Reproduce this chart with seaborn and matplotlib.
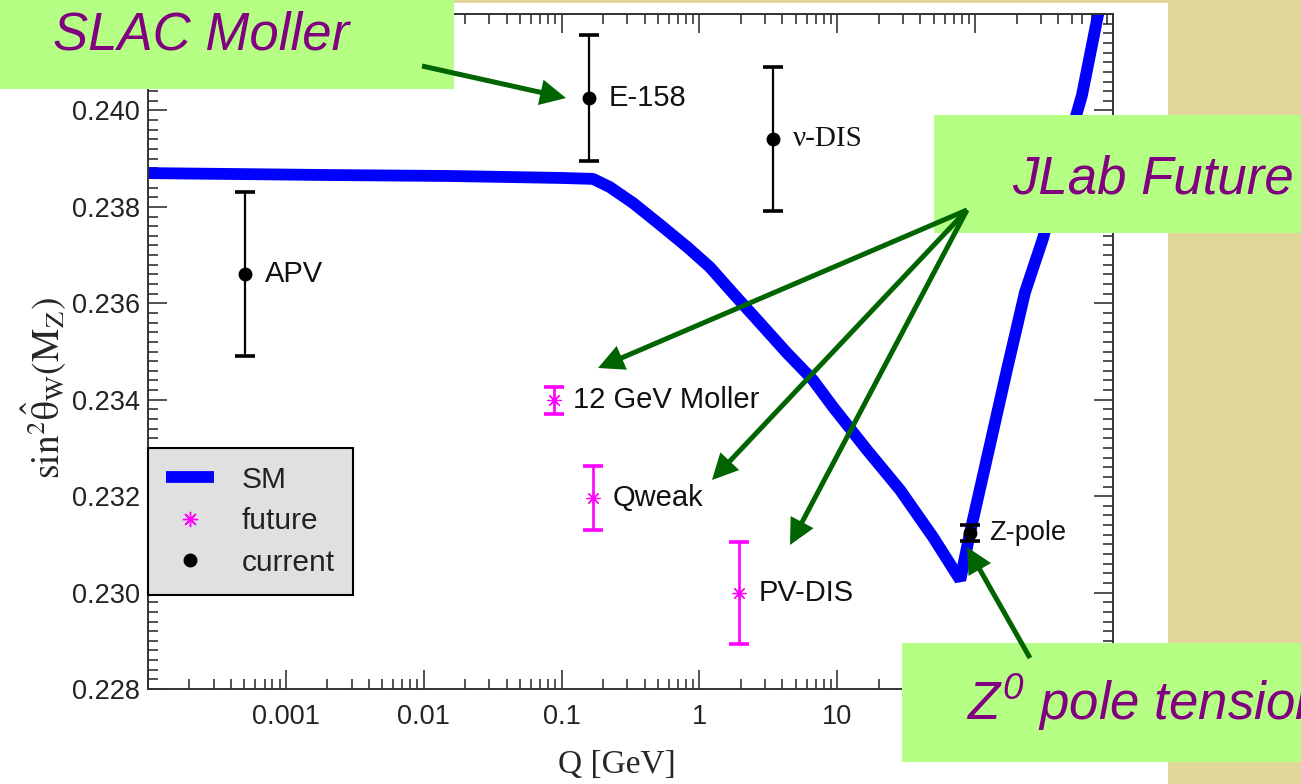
import matplotlib
matplotlib.use("Agg")
import matplotlib.pyplot as plt
from matplotlib.patches import Rectangle, FancyArrowPatch
from matplotlib.lines import Line2D
from matplotlib.ticker import MultipleLocator, LogLocator, NullFormatter, FixedLocator, FixedFormatter
import seaborn as sns

# Standard Model running of sin^2(theta_W) in the MS-bar scheme
sm_q = [1e-4, 2.09e-3, 0.0155, 0.0975, 0.169, 0.224, 0.330, 0.518, 0.813, 1.19,
        1.75, 2.75, 4.31, 6.66, 9.31, 16.4, 28.5, 49.5, 78.0, 91.8,
        128, 170, 230, 311, 427, 596, 805]
sm_s2w = [0.23870, 0.23866, 0.23864, 0.23860, 0.23858, 0.23841, 0.23808, 0.23763, 0.23717, 0.23675,
          0.23621, 0.23559, 0.23497, 0.23441, 0.23385, 0.23296, 0.23213, 0.23115, 0.23026, 0.23124,
          0.23306, 0.23462, 0.23623, 0.23735, 0.23887, 0.24032, 0.24219]

# Existing measurements
cur_names = ["APV", "E-158", "\u03bd-DIS", "Z-pole"]
cur_q = [5.06e-4, 0.158, 3.42, 91.19]
cur_s2w = [0.23661, 0.24026, 0.23941, 0.23124]
cur_err = [0.0017, 0.0013, 0.0015, 0.00017]

# Projected measurements
fut_names = ["12 GeV Moller", "Qweak", "PV-DIS"]
fut_q = [0.088, 0.169, 1.94]
fut_s2w = [0.23399, 0.23196, 0.22999]
fut_err = [0.00028, 0.00066, 0.00105]

x_ticks = [1e-4, 1e-3, 1e-2, 1e-1, 1, 10, 100, 1000]
x_tick_labels = ["", "0.001", "0.01", "0.1", "1", "10", "", ""]
y_ticks = [0.228, 0.230, 0.232, 0.234, 0.236, 0.238, 0.240]
y_tick_labels = ["0.228", "0.230", "0.232", "0.234", "0.236", "0.238", "0.240"]

legend_labels = ["SM", "future", "current"]

callouts = ["SLAC Moller", "JLab Future", r"$Z^{0}$ pole tension"]

sns.set_theme(style="ticks")
plt.rcParams["font.family"] = ["Liberation Sans", "DejaVu Sans"]
plt.rcParams["mathtext.fontset"] = "stix"
# italic sans used by the call-out text that carries a superscript
plt.rcParams["mathtext.it"] = "Liberation Sans:italic"
plt.rcParams["mathtext.rm"] = "Liberation Sans:italic"

W, H = 1301, 784
fig = plt.figure(figsize=(W / 100, H / 100), dpi=100)
fig.patch.set_facecolor("white")


def fx(px):
    return px / W


def fy(py):
    return 1 - py / H


BEIGE = "#E1D79B"
BOX = "#B4FF84"
PURPLE = "#800080"
ARROW = "#006400"

# slide background
fig.add_artist(Rectangle((fx(1168), 0), 1 - fx(1168), 1, transform=fig.transFigure,
                         facecolor=BEIGE, edgecolor="none", zorder=-5))
fig.add_artist(Rectangle((0, fy(3)), fx(1168), 3 / H, transform=fig.transFigure,
                         facecolor=BEIGE, edgecolor="none", zorder=-5))

ax = fig.add_axes([fx(148), fy(689), fx(1113) - fx(148), fy(14) - fy(689)])
ax.set_facecolor("white")
ax.set_xscale("log")

sns.lineplot(x=sm_q, y=sm_s2w, ax=ax, color="#0000FF", lw=8.5, estimator=None,
             sort=False, zorder=2, solid_joinstyle="bevel", solid_capstyle="butt")

ax.errorbar(cur_q, cur_s2w, yerr=cur_err, fmt="o", color="black", ms=9, elinewidth=1.6,
            capsize=7.5, capthick=2.6, zorder=3)
ax.errorbar(fut_q, fut_s2w, yerr=fut_err, fmt="none", ecolor="#FF00FF", elinewidth=1.9,
            capsize=7.5, capthick=2.6, zorder=3)
sns.scatterplot(x=fut_q, y=fut_s2w, ax=ax, marker=(8, 2, 0), color="#FF00FF", s=90,
                linewidth=0.9, edgecolor="#FF00FF", zorder=4)

for name, q, s in zip(cur_names, cur_q, cur_s2w):
    fam = ["Liberation Serif", "DejaVu Serif"] if name.startswith("\u03bd") else ["Liberation Sans", "DejaVu Sans"]
    ax.annotate(name, (q, s), xytext=(14, 0), textcoords="offset points", va="center",
                ha="left", fontsize=21 if name != "Z-pole" else 19.5, family=fam, color="#111111", zorder=5)
for name, q, s in zip(fut_names, fut_q, fut_s2w):
    ax.annotate(name, (q, s), xytext=(14, 0), textcoords="offset points", va="center",
                ha="left", fontsize=21, color="#111111", zorder=5)

ax.set_xlim(1e-4, 1e3)
ax.set_ylim(0.228, 0.242)
ax.xaxis.set_major_locator(FixedLocator(x_ticks))
ax.xaxis.set_major_formatter(FixedFormatter(x_tick_labels))
ax.xaxis.set_minor_locator(LogLocator(base=10, subs=range(2, 10), numticks=20))
ax.xaxis.set_minor_formatter(NullFormatter())
ax.yaxis.set_major_locator(FixedLocator(y_ticks))
ax.yaxis.set_major_formatter(FixedFormatter(y_tick_labels))
ax.yaxis.set_minor_locator(MultipleLocator(0.0002))

ax.tick_params(which="both", direction="in", top=True, right=True, color="#222222", width=1.1)
ax.tick_params(which="major", length=14)
ax.tick_params(which="minor", length=7)
ax.tick_params(axis="x", which="major", labelsize=19.5, pad=11, labelcolor="#222222")
ax.tick_params(axis="y", which="major", labelsize=19.5, pad=6, labelcolor="#222222")
for sp in ax.spines.values():
    sp.set_linewidth(1.4)
    sp.set_color("#333333")

ax.set_xlabel("Q [GeV]", fontsize=24, family=["Liberation Serif", "DejaVu Serif"], va="center")
ax.xaxis.set_label_coords((617 - 148) / 965, (689 - 765) / 675)
ax.set_ylabel(r"$\mathrm{sin}^2\hat{\mathrm{\theta}}_\mathrm{W}(\mathrm{M}_\mathrm{Z})$",
              fontsize=27, va="center")
ax.yaxis.set_label_coords((44 - 148) / 965, (689 - 388) / 675)

handles = [Line2D([], [], color="#0000FF", lw=8.5, solid_capstyle="butt"),
           Line2D([], [], color="#FF00FF", marker=(8, 2, 0), ls="none", ms=11, mew=1.0),
           Line2D([], [], color="black", marker="o", ls="none", ms=9)]
leg = ax.legend(handles, legend_labels, loc="upper left", bbox_to_anchor=(0, (689 - 448) / 675),
                borderaxespad=0, frameon=True, fancybox=False, framealpha=1, facecolor="#E0E0E0",
                edgecolor="black", fontsize=21.5, handlelength=1.6, handletextpad=0.95,
                borderpad=0.6, labelspacing=0.45)
leg.get_frame().set_linewidth(1.5)
for t in leg.get_texts():
    t.set_color("#222222")

# call-out boxes
for (x0, y0, x1, y1) in [(0, 0, 454, 89), (934, 115, 1301, 233), (902, 643, 1301, 762)]:
    fig.add_artist(Rectangle((fx(x0), fy(y1)), fx(x1) - fx(x0), fy(y0) - fy(y1),
                             transform=fig.transFigure, facecolor=BOX, edgecolor="none", zorder=5))

txt_kw = dict(color=PURPLE, style="italic", va="baseline", ha="left", zorder=7)
fig.text(fx(53), fy(50), callouts[0], fontsize=38, **txt_kw)
fig.text(fx(1012), fy(193), callouts[1], fontsize=38, **txt_kw)
fig.text(fx(966), fy(720), callouts[2], fontsize=38, math_fontfamily="custom", **txt_kw)

# arrows
for (a, b) in [((422, 66), (566, 98)),
               ((967, 210), (598, 368)),
               ((967, 210), (712, 480)),
               ((967, 210), (790, 545)),
               ((1030, 658), (967, 547))]:
    fig.add_artist(FancyArrowPatch((fx(a[0]), fy(a[1])), (fx(b[0]), fy(b[1])),
                                   transform=fig.transFigure, arrowstyle="-|>", mutation_scale=32,
                                   color=ARROW, lw=3.6, shrinkA=0, shrinkB=0, zorder=6,
                                   capstyle="butt", joinstyle="miter"))

fig.savefig("out.png", dpi=100, facecolor=fig.get_facecolor())
